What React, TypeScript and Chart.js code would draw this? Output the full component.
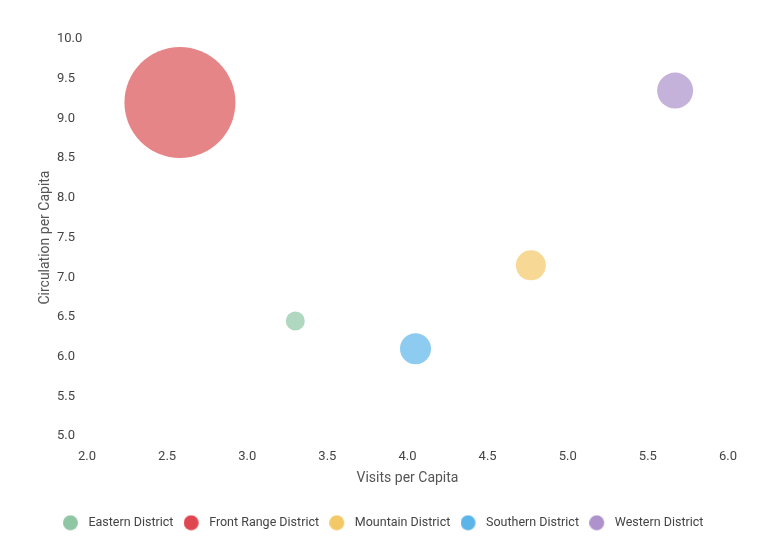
import React, { useEffect, useRef } from "react";
import { Chart, registerables } from "chart.js";

Chart.register(...registerables);

const districts = ["Eastern District", "Front Range District", "Mountain District", "Southern District", "Western District"];
const visits = [3.3, 2.58, 4.77, 4.05, 5.67];
const circulation = [6.45, 9.2, 7.15, 6.1, 9.35];
const radii = [9.5, 55.5, 15, 15.5, 18];
const colors = ["#8fc6a4", "#e0464f", "#f3c866", "#5cb5e9", "#ad92cb"];
const fills = ["rgba(143,198,164,0.7)", "rgba(222,92,96,0.75)", "rgba(243,200,102,0.7)", "rgba(92,181,233,0.7)", "rgba(173,146,203,0.7)"];
const xTitle = "Visits per Capita";
const yTitle = "Circulation per Capita";

function makeDot(color: string) {
  const c = document.createElement("canvas");
  c.width = 26;
  c.height = 16;
  const g = c.getContext("2d")!;
  g.fillStyle = color;
  g.beginPath();
  g.arc(7.5, 8, 7.5, 0, Math.PI * 2);
  g.fill();
  return c;
}

const shiftLegend = {
  id: "shiftLegend",
  afterLayout(chart: any) {
    const l = chart.legend;
    if (l) {
      l.left += 6;
      l.right += 6;
    }
  },
};

export default function App() {
  const ref = useRef<HTMLCanvasElement>(null);
  useEffect(() => {
    document.body.style.margin = "0";
    const dots = colors.map(makeDot);
    const ctx = ref.current!;
    const tickFont = { family: "Roboto", size: 13 };
    const titleFont = { family: "Roboto", size: 14 };
    const chart = new Chart(ctx, {
      type: "bubble",
      plugins: [shiftLegend],
      data: {
        datasets: districts.map((name, i) => ({
          label: name,
          data: [{ x: visits[i], y: circulation[i], r: radii[i] }],
          backgroundColor: fills[i],
          borderColor: fills[i],
          borderWidth: 0,
        })),
      },
      options: {
        animation: false,
        responsive: false,
        maintainAspectRatio: false,
        layout: { autoPadding: false, padding: { top: 39, right: 45, left: 33, bottom: 8 } },
        plugins: {
          tooltip: { enabled: false },
          legend: {
            position: "bottom",
            labels: {
              usePointStyle: true,
              boxWidth: 20,
              boxHeight: 20,
              padding: 17,
              color: "#444",
              font: { family: "Roboto", size: 12.5 },
              generateLabels: (c: any) =>
                c.data.datasets.map((d: any, i: number) => ({
                  text: d.label,
                  fillStyle: colors[i],
                  strokeStyle: colors[i],
                  lineWidth: 0,
                  pointStyle: dots[i],
                  hidden: false,
                  datasetIndex: i,
                  fontColor: "#444",
                })),
            },
          },
        },
        scales: {
          x: {
            type: "linear",
            min: 2,
            max: 6,
            ticks: { stepSize: 0.5, color: "#444", font: tickFont, callback: (v: any) => Number(v).toFixed(1), padding: 13 },
            grid: { display: false, drawTicks: false },
            border: { display: false },
            title: { display: true, text: xTitle, color: "#555", font: titleFont, padding: { top: -8, bottom: 13 } },
          },
          y: {
            type: "linear",
            position: "left",
            weight: 0,
            min: 5,
            max: 10,
            ticks: { stepSize: 0.5, color: "#444", font: tickFont, callback: (v: any) => Number(v).toFixed(1), padding: 6, crossAlign: "far" },
            grid: { display: false, drawTicks: false },
            border: { display: false },
            title: { display: false },
            afterFit: (s: any) => {
              s.width = 30;
            },
          },
          yTitle: {
            type: "linear",
            position: "left",
            axis: "y",
            weight: 1,
            display: true,
            ticks: { display: false },
            grid: { display: false, drawTicks: false },
            border: { display: false },
            title: { display: true, text: yTitle, color: "#555", font: titleFont, padding: { top: 4, bottom: 3.2 } },
            afterFit: (s: any) => {
              s.width = 24;
            },
          },
        },
      },
    });
    return () => chart.destroy();
  }, []);
  return (
    <div style={{ width: 773, height: 547 }}>
      <canvas ref={ref} width={773} height={547} style={{ display: "block" }} />
    </div>
  );
}
